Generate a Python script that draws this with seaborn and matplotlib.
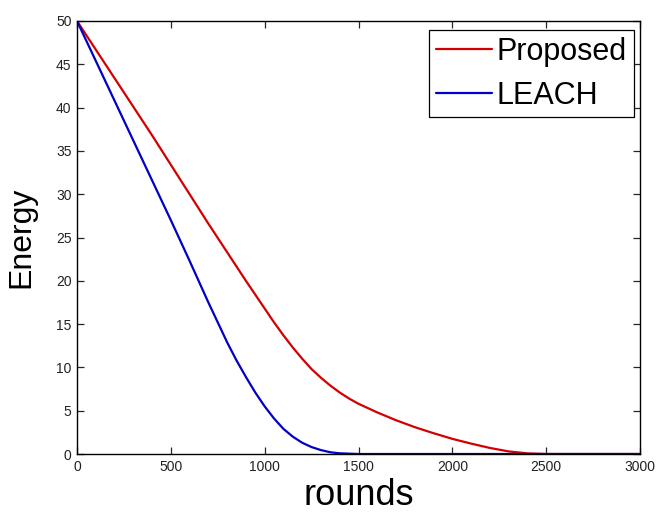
import pandas as pd
import matplotlib
matplotlib.use("Agg")
import matplotlib.pyplot as plt
import seaborn as sns

# values
proposed_rounds = [0, 100, 200, 300, 400, 500, 600, 700, 800, 900, 950, 1000, 1050,
                   1100, 1150, 1200, 1250, 1300, 1350, 1400, 1450, 1500, 1600, 1700,
                   1800, 1900, 2000, 2100, 2200, 2300, 2400, 2500, 3000]
proposed = [50, 46.7, 43.4, 40.1, 36.8, 33.4, 30.0, 26.6, 23.3, 20.0, 18.4, 16.8,
            15.2, 13.7, 12.3, 11.0, 9.8, 8.8, 7.9, 7.1, 6.4, 5.8, 4.8, 3.9, 3.1,
            2.4, 1.75, 1.2, 0.7, 0.3, 0.07, 0, 0]
leach_rounds = [0, 100, 200, 300, 400, 500, 600, 700, 750, 800, 850, 900, 950,
                1000, 1050, 1100, 1150, 1200, 1250, 1300, 1350, 1400, 1500, 3000]
leach = [50, 45.4, 40.8, 36.2, 31.6, 27.0, 22.3, 17.5, 15.2, 12.9, 10.8, 8.9, 7.1,
         5.5, 4.1, 2.9, 2.0, 1.3, 0.8, 0.45, 0.2, 0.08, 0, 0]
series = ["Proposed", "LEACH"]
colors = ["#d40000", "#0000c8"]

df = pd.DataFrame({
    "rounds": proposed_rounds + leach_rounds,
    "Energy": proposed + leach,
    "method": [series[0]] * len(proposed) + [series[1]] * len(leach),
})

sns.set_style("ticks")
plt.rcParams["font.family"] = ["Liberation Sans", "DejaVu Sans"]

fig = plt.figure(figsize=(6.59, 5.13), dpi=100)
ax = fig.add_axes([77 / 659, 59 / 513, 563 / 659, 433 / 513])

sns.lineplot(data=df, x="rounds", y="Energy", hue="method", hue_order=series,
             palette=colors, linewidth=1.6, ax=ax)

ax.set_xlim(0, 3000)
ax.set_ylim(0, 50)
ax.set_xticks(range(0, 3001, 500))
ax.set_yticks(range(0, 51, 5))
ax.tick_params(direction="in", top=True, right=True, length=5, width=0.9,
               labelsize=10, labelcolor="#222222", pad=4)
for s in ax.spines.values():
    s.set_linewidth(1.0)
    s.set_color("black")

ax.set_xlabel("rounds", fontsize=26, color="black")
ax.set_ylabel("Energy", fontsize=23, color="black")
ax.xaxis.set_label_coords(0.5, -0.055)
ax.yaxis.set_label_coords(-0.072, 0.5)

leg = ax.legend(loc="upper right", bbox_to_anchor=(0.989, 0.979), borderaxespad=0,
                fontsize=22, handlelength=1.85, handletextpad=0.15, borderpad=0.22,
                labelspacing=0.45, fancybox=False, framealpha=1, edgecolor="black")
leg.get_frame().set_linewidth(0.9)
for t in leg.get_texts():
    t.set_color("black")

fig.savefig("out.png", dpi=100)
